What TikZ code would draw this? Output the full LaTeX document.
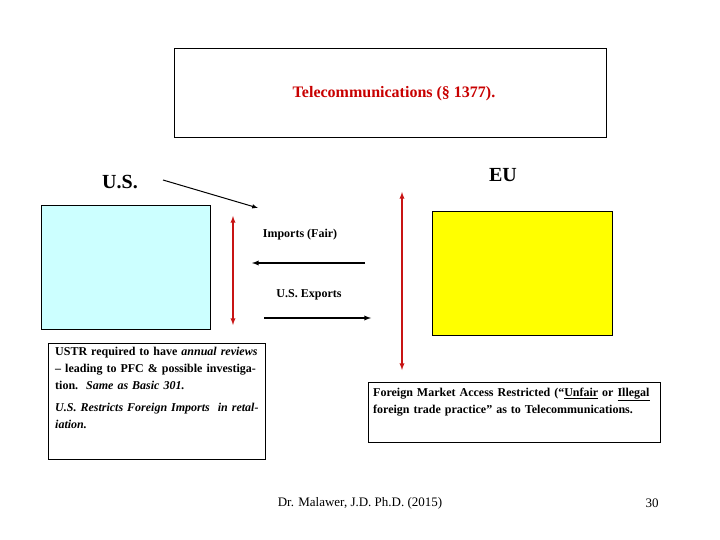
\documentclass[tikz,border=0pt]{standalone}
\usepackage{fontspec}
\setmainfont{Liberation Serif}
\begin{document}
\begin{tikzpicture}[x=1pt,y=-1pt,
  blk/.style={draw=black,line width=0.8pt},
  arr/.style={-latex,line width=1.3pt},
  rarr/.style={latex-latex,line width=1.3pt,draw={rgb,255:red,200;green,20;blue,20}},
  lbl/.style={font=\bfseries\fontsize{12}{14}\selectfont,inner sep=0pt}]
\useasboundingbox (0,0) rectangle (720,540);
\node[blk,minimum width=432,minimum height=89,anchor=north west] (top) at (174,48) {};
\node[font=\bfseries\fontsize{16}{18}\selectfont,text={rgb,255:red,200;green,0;blue,0}] (title) at (394,94) {Telecommunications (§ 1377).};
\node[font=\bfseries\fontsize{20}{22}\selectfont,inner sep=0pt] (us) at (120,182) {U.S.};
\node[font=\bfseries\fontsize{20}{22}\selectfont,inner sep=0pt] (eu) at (503,175) {EU};
\coordinate (a1s) at (163,180); \coordinate (a1e) at (258,208);
\draw[arr,line width=1pt] (a1s) -- (a1e);
\node[blk,fill={rgb,255:red,204;green,255;blue,255},minimum width=169,minimum height=124,anchor=north west] (cyan) at (41,205) {};
\node[blk,fill={rgb,255:red,255;green,255;blue,0},minimum width=180,minimum height=124,anchor=north west] (yel) at (432,211) {};
\coordinate (r1a) at (233,216); \coordinate (r1b) at (233,325);
\draw[rarr] (r1a) -- (r1b);
\coordinate (r2a) at (402,192); \coordinate (r2b) at (402,370);
\draw[rarr] (r2a) -- (r2b);
\node[lbl] (imp) at (300,235) {Imports (Fair)};
\coordinate (i1) at (365,263); \coordinate (i2) at (252,263);
\draw[arr] (i1) -- (i2);
\node[lbl] (exp) at (309,295) {U.S. Exports};
\coordinate (e1) at (264,318); \coordinate (e2) at (371,318);
\draw[arr] (e1) -- (e2);
\node[blk,minimum width=217,minimum height=116,anchor=north west] (lb) at (48,343) {};
\node[anchor=north west,text width=205,align=left,inner sep=0pt,font=\bfseries\fontsize{12}{17}\selectfont] (lt) at (55,347)
 {USTR required to have \textit{annual reviews} – leading to PFC \& possible investigation.\ \ \textit{Same as Basic 301.}\par\vspace{5pt}
  \textit{U.S. Restricts Foreign Imports\ \ in retaliation.}};
\node[blk,minimum width=292,minimum height=60,anchor=north west] (rb) at (368,382) {};
\node[anchor=north west,text width=285,align=left,inner sep=0pt,font=\bfseries\fontsize{12}{17}\selectfont] (rt) at (373,388)
 {Foreign Market Access Restricted (“\underline{Unfair} or \underline{Illegal} foreign trade practice” as to Telecommunications.};
\node[font=\fontsize{13}{15}\selectfont] (ft) at (360,503) {Dr. Malawer, J.D. Ph.D. (2015)};
\node[font=\fontsize{13}{15}\selectfont] (pg) at (652,503) {30};
\end{tikzpicture}
\end{document}
